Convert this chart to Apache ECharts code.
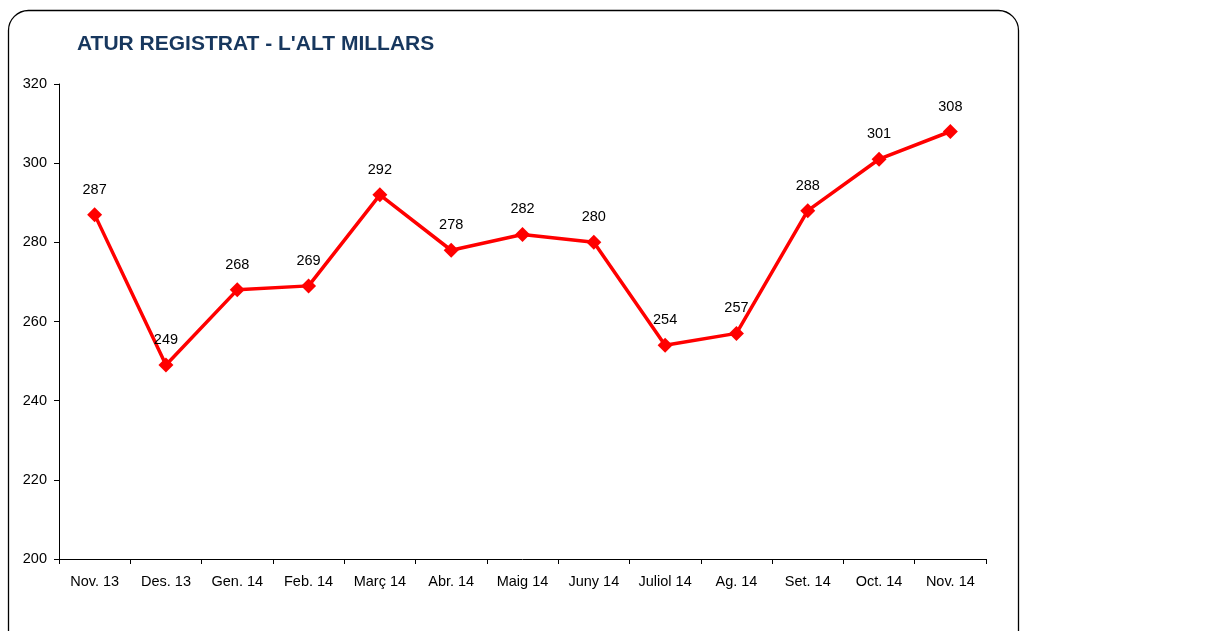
<!DOCTYPE html>
<html><head><meta charset="utf-8">
<script src="https://cdn.jsdelivr.net/npm/echarts@6/dist/echarts.min.js"></script>
<style>html,body{margin:0;padding:0;background:#fff;}#c{width:1208px;height:631px;}</style>
</head><body><div id="c"></div>
<script>
const categories = ['Nov. 13','Des. 13','Gen. 14','Feb. 14','Març 14','Abr. 14','Maig 14','Juny 14','Juliol 14','Ag. 14','Set. 14','Oct. 14','Nov. 14'];
const values = [287,249,268,269,292,278,282,280,254,257,288,301,308];
const title = "ATUR REGISTRAT - L'ALT MILLARS";
const chart = echarts.init(document.getElementById('c'));
const font = 'Liberation Sans, Arial, sans-serif';
chart.setOption({
  animation:false,
  graphic:[{type:'rect',shape:{x:8.5,y:10.5,width:1010,height:640,r:20},style:{fill:'none',stroke:'#000',lineWidth:1.3},z:-1}],
  title:{text:title,left:72,top:29,textStyle:{fontFamily:font,fontSize:21,fontWeight:'bold',color:'#17375E'}},
  grid:{left:59,right:222,top:84,bottom:72},
  xAxis:{type:'category',data:categories,boundaryGap:true,
    axisLine:{lineStyle:{color:'#000',width:1}},
    axisTick:{show:true,alignWithLabel:false,length:5,lineStyle:{color:'#000'}},
    axisLabel:{color:'#000',fontFamily:font,fontSize:14.5,margin:15,interval:0}},
  yAxis:{type:'value',min:200,max:320,interval:20,
    axisLine:{show:true,lineStyle:{color:'#000',width:1}},
    axisTick:{show:true,length:5,lineStyle:{color:'#000'}},
    splitLine:{show:false},
    axisLabel:{color:'#000',fontFamily:font,fontSize:14.5,margin:12}},
  series:[{type:'line',data:values,symbol:'diamond',symbolSize:15,
    lineStyle:{color:'#FF0000',width:3.5},itemStyle:{color:'#FF0000'},
    label:{show:true,position:'top',distance:10,color:'#000',fontFamily:font,fontSize:14.5}}]
});
</script></body></html>
